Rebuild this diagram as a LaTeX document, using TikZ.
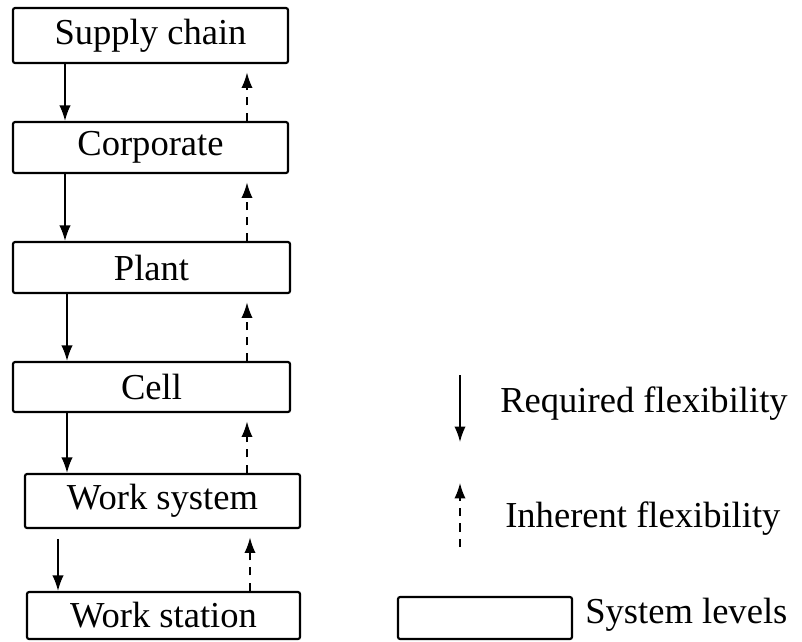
\documentclass[tikz,border=0pt]{standalone}
\usepackage{fontspec}
\setmainfont{Liberation Serif}
\usetikzlibrary{arrows.meta}
\tikzset{
  level/.style={draw=black, line width=1.5pt, rounded corners=1.5pt, fill=white,
    inner sep=0pt, font=\fontsize{26}{30}\selectfont},
  legendtext/.style={inner sep=0pt, anchor=base west, font=\fontsize{26}{30}\selectfont},
  reqflow/.style={draw=black, line width=1.1pt, -{Latex[length=11pt, width=8pt]}},
  inhflow/.style={draw=black, line width=1.1pt, dash pattern=on 6pt off 5pt,
    -{Latex[length=11pt, width=8pt]}, shorten >=6pt},
}

\begin{document}
\begin{tikzpicture}[x=0.025cm, y=-0.025cm]
\useasboundingbox (0,0) rectangle (802,641);
% system levels
\node[level, minimum width=6.875cm, minimum height=1.375cm] (supply) at (150.5,35.5) {Supply chain};
\node[level, minimum width=6.875cm, minimum height=1.275cm] (corporate) at (150.5,147.5) {Corporate};
\node[level, minimum width=6.925cm, minimum height=1.275cm] (plant) at (151.5,267.5) {Plant};
\node[level, minimum width=6.925cm, minimum height=1.25cm] (cell) at (151.5,387) {Cell};
\node[level, minimum width=6.875cm, minimum height=1.35cm] (worksys) at (162.5,501) {Work system};
\node[level, minimum width=6.825cm, minimum height=1.175cm] (workstat) at (163.5,615.5) {Work station};
% columns of the arrows
\coordinate (downA) at (65,0);
\coordinate (downB) at (67,0);
\coordinate (downC) at (58,0);
\coordinate (upA) at (247,0);
\coordinate (upB) at (250,0);
% required flexibility, top down
\draw[reqflow] (supply.south -| downA) -- (corporate.north -| downA);
\draw[reqflow] (corporate.south -| downA) -- (plant.north -| downA);
\draw[reqflow] (plant.south -| downB) -- (cell.north -| downB);
\draw[reqflow] (cell.south -| downB) -- (worksys.north -| downB);
\draw[reqflow, shorten <=7pt] (worksys.south -| downC) -- (workstat.north -| downC);
% inherent flexibility, bottom up
\draw[inhflow] (corporate.north -| upA) -- (supply.south -| upA);
\draw[inhflow] (plant.north -| upA) -- (corporate.south -| upA);
\draw[inhflow] (cell.north -| upA) -- (plant.south -| upA);
\draw[inhflow] (worksys.north -| upA) -- (cell.south -| upA);
\draw[inhflow] (workstat.north -| upB) -- (worksys.south -| upB);
% legend
\coordinate (reqtop) at (460,375);
\coordinate (reqend) at (460,442);
\coordinate (inhbot) at (460,547);
\coordinate (inhend) at (460,483);
\draw[reqflow] (reqtop) -- (reqend);
\draw[inhflow, shorten >=0pt] (inhbot) -- (inhend);
\node[legendtext] (reqlabel) at (500,412) {Required flexibility};
\node[legendtext] (inhlabel) at (505,527) {Inherent flexibility};
\node[level, minimum width=4.35cm, minimum height=1.05cm] (levelkey) at (485,618) {};
\node[legendtext] (levellabel) at (585,623) {System levels};
\end{tikzpicture}
\end{document}
